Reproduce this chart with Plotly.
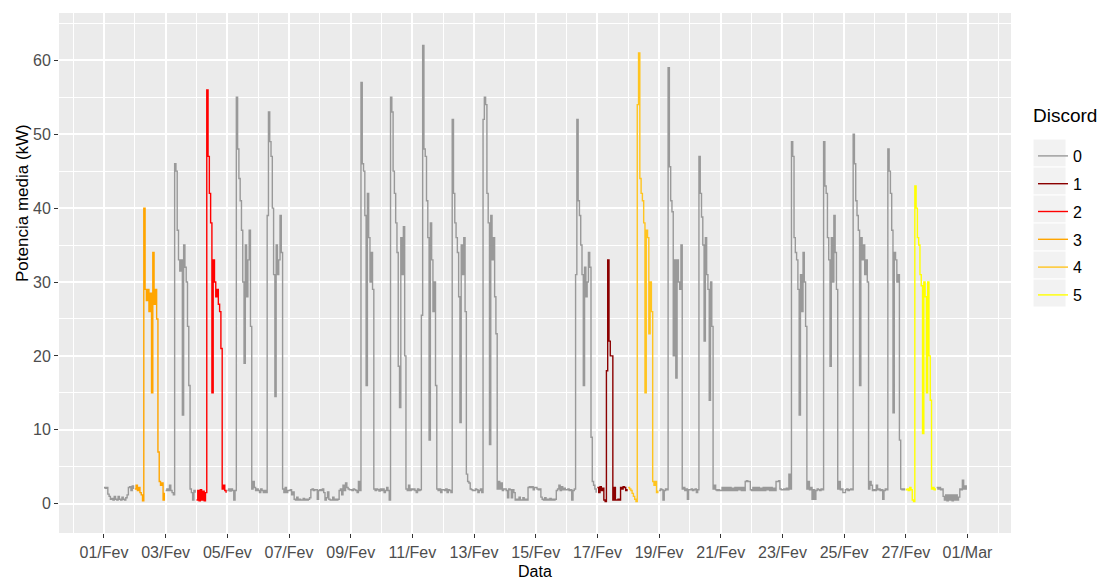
import pandas as pd
import plotly.graph_objects as go

# ---------------- data (hourly mean power, kW) ----------------
start = "2015-02-01 00:00"

feb01 = [2.2, 2.1, 2.2, 1.3, 1.0, 0.6, 0.7, 0.5, 1.0, 0.6, 0.5, 1.0, 0.6, 0.5, 0.9, 0.6, 0.5, 0.8, 1.2, 2.2, 2.3, 1.8, 2.4, 2.0]
feb02 = [2.0, 2.5, 1.8, 2.2, 1.5, 1.2, 0.4, 40, 29, 27.5, 29, 26, 28.5, 15, 34, 27, 29, 25, 7, 3, 2.5, 2.8, 0.5, 1.5]
feb03 = [1.8, 2.0, 1.8, 2.5, 1.8, 1.5, 1.2, 46, 45, 37, 33, 31.5, 33, 12, 35, 32, 30, 24, 16, 2, 1.5, 0.5, 1.8, 1.5]
feb04 = [0.5, 1.8, 0.4, 1.9, 0.5, 1.7, 0.4, 1.5, 56, 47, 42, 38, 15, 33, 30, 28, 29, 27, 26, 21, 2, 2.5, 1.8, 1.5]
feb05 = [1.8, 2.0, 1.7, 2.0, 1.8, 0.5, 1.8, 55, 48, 44, 41, 37, 30, 19, 35, 28, 33, 37, 24, 2, 3, 2.2, 1.8, 2.0]
feb06 = [1.8, 1.5, 2.0, 1.8, 1.5, 1.8, 1.5, 39, 53, 49, 47, 40, 31, 14.5, 35, 31, 33, 39, 34, 2, 1.5, 2.2, 1.5, 1.8]
feb07 = [1.8, 1.9, 1.2, 1.6, 0.6, 0.5, 0.9, 0.5, 0.6, 0.5, 0.5, 0.7, 0.5, 0.6, 0.5, 0.6, 0.8, 1.9, 2.0, 1.8, 1.9, 1.9, 0.6, 1.8]
feb08 = [1.9, 1.8, 2.0, 1.5, 0.5, 0.8, 1.6, 0.6, 0.5, 0.5, 0.9, 0.5, 0.6, 0.5, 0.6, 1.8, 2.0, 1.2, 2.5, 1.8, 2.8, 2.2, 2.0, 1.9]
feb09 = [1.9, 1.8, 2.0, 1.9, 1.8, 1.5, 3.0, 1.8, 57, 46, 45, 39, 16, 42, 36, 30, 34, 29, 2, 1.8, 2.0, 1.9, 1.7, 2.0]
feb10 = [1.8, 2.0, 1.5, 1.8, 2.2, 1.8, 0.5, 55, 53, 45, 42, 38, 34, 18.6, 13, 36, 31, 37.5, 20, 2, 1.8, 2.5, 1.8, 2.0]
feb11 = [1.9, 2.0, 1.8, 1.5, 2.0, 1.8, 1.9, 25.5, 62, 48, 47, 41, 36, 8.6, 38, 33, 26, 30, 16, 2, 1.8, 2.0, 1.5, 1.9]
feb12 = [1.9, 1.8, 2.0, 1.5, 1.9, 1.8, 1.5, 52, 42, 38, 36, 34, 28, 11, 35, 31, 36, 26, 4, 3, 2.8, 2.0, 1.9, 1.8]
feb13 = [1.8, 2.0, 1.9, 1.5, 1.8, 2.0, 1.5, 52, 55, 54, 42, 38, 8, 39, 33, 36, 28, 23, 2, 3.0, 2.0, 2.8, 1.8, 2.0]
feb14 = [2.0, 1.8, 0.8, 2.0, 1.9, 0.8, 1.9, 1.5, 0.5, 0.6, 0.5, 0.9, 0.5, 0.5, 0.8, 0.5, 0.6, 0.5, 2.2, 2.3, 2.2, 2.3, 1.9, 2.2]
feb15 = [2.2, 2.0, 1.9, 2.0, 0.9, 0.6, 0.5, 0.8, 0.5, 0.6, 0.5, 0.7, 0.5, 0.6, 0.5, 0.6, 1.8, 2.0, 2.5, 1.8, 2.3, 1.9, 2.1, 1.9]
feb16 = [1.9, 2.0, 1.8, 1.9, 0.5, 1.8, 2.0, 31, 52, 41, 39, 35, 31, 16, 32, 28, 30, 34, 32, 9, 3, 2.5, 2.0, 1.5]
feb17 = [2.2, 1.5, 2.3, 1.8, 2.1, 0.5, 0.3, 18, 33, 22, 20, 20, 0.5, 2.2, 0.5, 0.5, 0.6, 0.5, 2.2, 2.0, 2.3, 2.2, 1.8, 2.0]
feb18 = [2.2, 2.0, 1.8, 1.4, 1.0, 0.6, 0.3, 54, 61, 44, 42, 41, 38, 15, 37, 36, 23, 30, 26, 3, 2.5, 3.0, 1.5, 1.8]
feb19 = [1.8, 2.0, 1.9, 0.5, 1.8, 2.0, 1.9, 59, 45.6, 41, 39.5, 20, 33, 17, 33, 30, 29, 35, 2, 2.2, 1.8, 2.0, 0.6, 1.9]
feb20 = [1.9, 2.0, 1.8, 1.9, 2.0, 1.5, 1.9, 47, 42, 38.8, 35, 22, 36, 31, 29, 14, 30, 24, 2, 2.5, 1.9, 1.8, 1.9, 1.8]
feb21 = [1.8, 2.2, 1.8, 2.2, 1.8, 2.2, 1.8, 2.2, 1.8, 2.1, 1.8, 2.2, 1.8, 2.2, 1.9, 2.2, 1.8, 2.2, 1.8, 3.0, 3.1, 3.0, 3.0, 1.9]
feb22 = [1.8, 2.2, 1.8, 2.2, 1.8, 2.2, 1.8, 2.1, 1.8, 2.2, 1.8, 2.2, 1.9, 2.2, 1.8, 2.2, 1.8, 2.1, 1.8, 3.0, 3.0, 3.1, 2.0, 1.9]
feb23 = [1.9, 2.0, 1.9, 2.1, 1.9, 4.0, 2.0, 49, 47, 36, 34, 33, 29, 12, 31, 26, 34, 30, 24, 2, 3.0, 1.9, 2.2, 0.6]
feb24 = [1.9, 0.6, 1.8, 2.0, 1.9, 1.8, 2.0, 1.9, 49, 43, 42, 36, 33, 18.6, 36, 30, 39, 34, 29, 2, 3.0, 1.9, 2.0, 1.5]
feb25 = [1.5, 1.9, 2.0, 1.8, 1.9, 2.0, 1.9, 50, 46, 41, 39, 37, 16, 36, 33, 35, 31, 33, 30, 2, 3.0, 2.5, 1.8, 1.9]
feb26 = [1.8, 2.5, 1.9, 2.0, 1.8, 1.9, 0.6, 1.8, 2.0, 1.9, 48, 45, 42, 37, 12.3, 34, 33, 30, 31, 8.6, 2, 1.9, 2.0, 1.8]
feb27 = [1.9, 2.0, 1.8, 2.2, 1.9, 0.5, 0.3, 43, 40, 36, 35, 31, 29.5, 9.5, 30, 28, 15, 30, 20, 14, 2, 2.2, 1.9, 2.1]
feb28 = [2.2, 2.0, 2.2, 1.9, 2.0, 1.0, 0.5, 1.2, 0.4, 1.2, 0.5, 1.2, 0.4, 1.2, 0.5, 1.2, 0.5, 0.9, 2.0, 1.9, 3.2, 2.0, 2.4, 1.9]

# discord label of each day (0 = normal)
discord_day = [0, 3, 0, 2, 0, 0, 0, 0, 0, 0, 0, 0, 0, 0,
               0, 0, 1, 4, 0, 0, 0, 0, 0, 0, 0, 0, 5, 0]

discord_labels = ["0", "1", "2", "3", "4", "5"]
discord_colors = ["#999999", "#8B0000", "#FF0000", "#FFA500", "#FFC41F", "#FFFF00"]

tick_dates = ["2015-02-01", "2015-02-03", "2015-02-05", "2015-02-07", "2015-02-09",
              "2015-02-11", "2015-02-13", "2015-02-15", "2015-02-17", "2015-02-19",
              "2015-02-21", "2015-02-23", "2015-02-25", "2015-02-27", "2015-03-01"]
tick_labels = ["01/Fev", "03/Fev", "05/Fev", "07/Fev", "09/Fev", "11/Fev", "13/Fev",
               "15/Fev", "17/Fev", "19/Fev", "21/Fev", "23/Fev", "25/Fev", "27/Fev", "01/Mar"]
minor_dates = ["2015-01-31", "2015-02-02", "2015-02-04", "2015-02-06", "2015-02-08",
               "2015-02-10", "2015-02-12", "2015-02-14", "2015-02-16", "2015-02-18",
               "2015-02-20", "2015-02-22", "2015-02-24", "2015-02-26", "2015-02-28",
               "2015-03-02"]
y_ticks = [0, 10, 20, 30, 40, 50, 60]

# ---------------- build ----------------
days = [feb01, feb02, feb03, feb04, feb05, feb06, feb07, feb08, feb09, feb10,
        feb11, feb12, feb13, feb14, feb15, feb16, feb17, feb18, feb19, feb20,
        feb21, feb22, feb23, feb24, feb25, feb26, feb27, feb28]
t0 = pd.Timestamp(start)

fig = go.Figure()
for g, (lab, col) in enumerate(zip(discord_labels, discord_colors)):
    xs, ys = [], []
    for i, vals in enumerate(days):
        if discord_day[i] == g:
            times = pd.date_range(t0 + pd.Timedelta(days=i), periods=len(vals), freq="h")
            xs.extend(times)
            ys.extend(vals)
        elif xs and xs[-1] is not None:
            xs.append(None)
            ys.append(None)
    fig.add_trace(go.Scatter(
        x=xs, y=ys, mode="lines", name=lab, legendgroup=lab,
        line=dict(color=col, width=1.4, shape="hv"), connectgaps=False,
    ))

# pixel helpers for the decoration (plot area: x 59..1011, y 13..533)
L, R, T, B = 59, 90, 13, 48
W, H = 1101 - L - R, 581 - T - B
def px_x(p): return (p - L) / W
def px_y(p): return (581 - B - p) / H

FONT = "Liberation Sans, Arial, sans-serif"
shapes = []
for k in range(len(discord_labels)):
    shapes.append(dict(type="rect", xref="paper", yref="paper",
                       x0=px_x(1033), x1=px_x(1066),
                       y0=px_y(139 + 28 * (k + 1)), y1=px_y(139 + 28 * k),
                       fillcolor="#F2F2F2", line=dict(color="white", width=1),
                       layer="below"))

fig.update_layout(
    width=1101, height=581,
    margin=dict(l=L, r=R, t=T, b=B),
    paper_bgcolor="white", plot_bgcolor="#EBEBEB",
    font=dict(family=FONT, size=16, color="black"),
    showlegend=True,
    legend=dict(
        font=dict(size=16, color="black"),
        x=px_x(1033), xanchor="left", y=px_y(139), yanchor="top",
        bgcolor="rgba(0,0,0,0)", tracegroupgap=4, itemwidth=30,
    ),
    shapes=shapes,
    annotations=[
        dict(text="Discord", xref="paper", yref="paper", x=px_x(1031), y=px_y(116),
             xanchor="left", yanchor="middle", showarrow=False,
             font=dict(size=19, color="black")),
        dict(text="Data", xref="paper", yref="paper", x=0.5, y=px_y(571),
             xanchor="center", yanchor="middle", showarrow=False,
             font=dict(size=16, color="black")),
        dict(text="Potencia media (kW)", xref="paper", yref="paper", x=px_x(22), y=px_y(203),
             xanchor="center", yanchor="middle", showarrow=False, textangle=-90,
             font=dict(size=17, color="black")),
    ],
)
fig.update_xaxes(
    type="date",
    range=[t0 + pd.Timedelta(days=-1.458), t0 + pd.Timedelta(days=29.41)],
    tickmode="array", tickvals=tick_dates, ticktext=tick_labels,
    tickfont=dict(size=16, color="#4D4D4D"), ticklabelstandoff=1,
    ticks="outside", ticklen=4, tickwidth=1.2, tickcolor="#333333",
    showgrid=True, gridcolor="white", gridwidth=1.6,
    minor=dict(tickmode="array", tickvals=minor_dates, showgrid=True,
               gridcolor="white", gridwidth=0.8, ticklen=0),
    zeroline=False, showline=False,
)
fig.update_yaxes(
    range=[-3.96, 66.4],
    tickmode="array", tickvals=y_ticks,
    tickfont=dict(size=16, color="#4D4D4D"),
    ticks="outside", ticklen=4, tickwidth=1.2, tickcolor="#333333",
    showgrid=True, gridcolor="white", gridwidth=1.6,
    minor=dict(dtick=5, tick0=5, showgrid=True, gridcolor="white", gridwidth=0.8, ticklen=0),
    zeroline=False, showline=False,
)

fig.write_html("out.html")
